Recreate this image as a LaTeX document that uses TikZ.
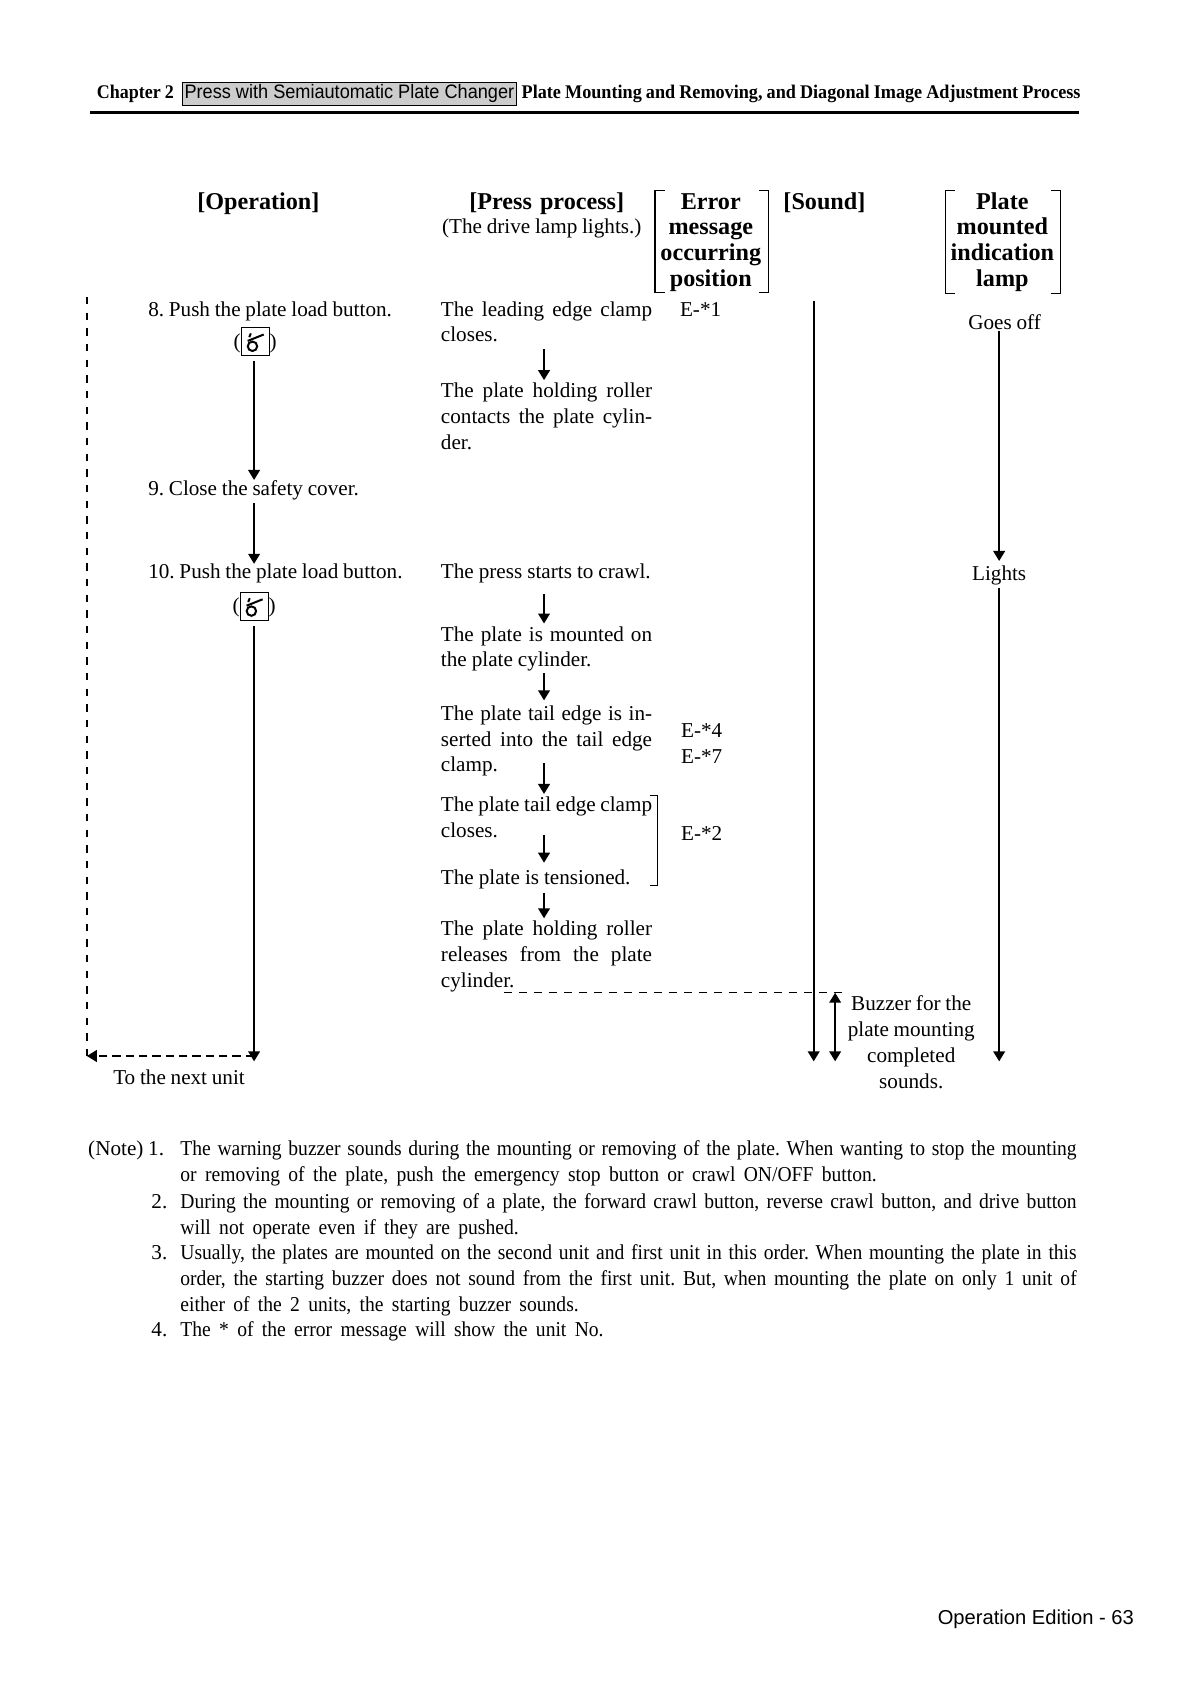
\documentclass[tikz,border=0pt]{standalone}
\usepackage{fontspec}
\setmainfont[WordSpace=0.9]{Liberation Serif}
\newfontfamily\arialfont{Liberation Sans}
\usetikzlibrary{arrows.meta, positioning, calc}
\hbadness=10000
\hfuzz=20pt
\frenchspacing
\newcommand{\bodyfont}{\fontsize{12.7}{15.44}\selectfont}
\newcommand{\headfont}{\fontsize{14.5}{15.44}\selectfont\bfseries}
\newcommand{\notefont}{\fontsize{12.7}{15.6}\addfontfeature{FakeStretch=0.925}\selectfont}
\newcommand{\fline}[1]{\makebox[\linewidth][s]{#1}\\}
\begin{document}
\begin{tikzpicture}[
    x=0.6433pt, y=-0.6433pt,
    tightsp/.style={execute at begin node={\spaceskip=#1 plus 2pt minus 2pt\relax}},
    txt/.style={inner sep=0pt, anchor=base west, font=\bodyfont, yshift=-0.6pt},
    ctr/.style={inner sep=0pt, anchor=base, font=\bodyfont, yshift=-0.6pt},
    hdr/.style={inner sep=0pt, anchor=base, font=\headfont, text width=74pt, align=center},
    press/.style={txt, text width=126.7pt, tightsp=3pt},
    note/.style={inner sep=0pt, anchor=base west, font=\notefont, text width=537.8pt, yshift=-0.6pt, tightsp=5pt},
    arr/.style={-{Triangle[length=6pt,width=7pt]}, line width=1.1pt},
    dbl/.style={{Triangle[length=6pt,width=7pt]}-{Triangle[length=6pt,width=7pt]}, line width=1.1pt},
    dashline/.style={line width=1.2pt},
    brk/.style={line width=0.8pt},
    iconbox/.style={draw, line width=0.6pt, inner sep=0pt, minimum size=16.8pt,
        label={[ctr, anchor=east, xshift=0.2pt]left:(},
        label={[ctr, anchor=west, xshift=-0.2pt]right:)},
        path picture={
            \draw[line width=1.2pt] (path picture bounding box.center) ++(-2.5,4) circle (4.4);
            \draw[line width=1.2pt] (path picture bounding box.center) ++(-7,-1) -- ++(15,-6);
            \draw[line width=1.2pt] (path picture bounding box.center) ++(-4,-8) -- ++(-1.5,3.5);
        }},
]
\useasboundingbox (0,0) rectangle (1108,1568);

% Page header
\node[inner sep=0pt, anchor=base west, font=\fontsize{11.6}{14}\addfontfeature{FakeStretch=0.93}\selectfont\bfseries] (chap) at (90,92) {Chapter 2};
\node[draw, fill=gray!40, line width=0.6pt, inner sep=1.5pt, font=\arialfont\fontsize{11.7}{14}\addfontfeature{FakeStretch=0.93}\selectfont, base right=4.5pt of chap] (unit) {Press with Semiautomatic Plate Changer};
\node[inner sep=0pt, font=\fontsize{11.6}{14}\addfontfeature{FakeStretch=0.94}\selectfont\bfseries, base right=2.5pt of unit] (title) {Plate Mounting and Removing, and Diagonal Image Adjustment Process};
\coordinate (rulel) at (84,105);
\coordinate (ruler) at (1006,105);
\draw[line width=1.6pt] (rulel) -- (ruler);

% Column heads
\node[hdr] (hop) at (241,195) {[Operation]};
\node[hdr, text width=110pt] (hpress) at (510,195) {[Press process]};
\node[txt] (hlamp) at (412,217) {(The drive lamp lights.)};
\node[hdr] (hmsg) at (663,195) {Error\\message\\occurring\\position};
\node[hdr] (hsound) at (769,195) {[Sound]};
\node[hdr] (hplate) at (935,195) {Plate\\mounted\\indication\\lamp};

\coordinate (msgtl) at (611,178);
\coordinate (msgbr) at (717,273);
\coordinate (platetl) at (882,178);
\coordinate (platebr) at (989,274);
\foreach \a/\b in {msgtl/msgbr, platetl/platebr} {
    \draw[brk] (\a) ++(9,0) -- ++(-9,0) -- (\a |- \b) -- ++(9,0);
    \draw[brk] (\b) ++(-9,0) -- ++(9,0) -- (\b |- \a) -- ++(-9,0);
}

% Operation steps
\node[txt] (s8) at (138,294) {8. Push the plate load button.};
\node[iconbox] (icon8) at (238,319) {};
\node[txt] (s9) at (138,461) {9. Close the safety cover.};
\node[txt] (s10) at (138,539) {10. Push the plate load button.};
\node[iconbox] (icon10) at (237,566) {};
\node[ctr] (nextunit) at (167,1011) {To the next unit};
\coordinate (nextr) at (237,990);
\coordinate (nextl) at (81,985);
\coordinate (backt) at (81,277);

\draw[arr, shorten <=3pt] (icon8.south -| nextr) -- (nextr |- s9.north);
\draw[arr, shorten <=2pt] (nextr |- s9.south) -- (nextr |- s10.north);
\draw[arr, shorten <=3pt] (icon10.south -| nextr) -- (nextr);
\draw[dashline, dash pattern=on 4.4pt off 5pt] (backt) -- (nextl);
\draw[dashline, dash pattern=on 5pt off 3pt, -{Triangle[length=6pt,width=7pt]}] (nextr |- nextl) -- (nextl);

% Press process
\node[press] (p1) at (411,294) {\fline{The leading edge clamp}closes.};
\node[press] (p2) at (411,370) {\fline{The plate holding roller}\fline{contacts the plate cylin-}der.};
\node[press] (p3) at (411,539) {\mbox{The press starts to crawl.}};
\node[press] (p4) at (411,597) {\fline{The plate is mounted on}the plate cylinder.};
\node[press] (p5) at (411,671) {\fline{The plate tail edge is in-}\fline{serted into the tail edge}clamp.};
\node[press] (p6) at (411,756) {\fline{The plate tail edge clamp}closes.};
\node[press] (p7) at (411,824) {The plate is tensioned.};
\node[press] (p8) at (411,872) {\fline{The plate holding roller}\fline{releases from the plate}cylinder.};

\foreach \a/\b/\s/\e in {p1/p2/4/1.5, p3/p4/6/1.5, p4/p5/1/3, p5/p6/-8/1.5, p6/p7/-2/4, p7/p8/2/1.5} {
    \draw[arr, transform canvas={xshift=-1.5pt}, shorten <=\s pt, shorten >=\e pt] (\a.south) -- (\b.north);
}

\coordinate (clampt) at (613,742);
\coordinate (clampb) at (613,826);
\draw[brk] (clampt) ++(-7,0) -- ++(7,0) -- (clampb) -- ++(-7,0);

% Error messages
\node[txt] (e1) at (634,294) {E-*1};
\node[txt] (e4) at (635,687) {E-*4};
\node[txt] (e7) at (635,711) {E-*7};
\node[txt] (e2) at (635,783) {E-*2};

% Sound
\coordinate (sndt) at (759,281);
\coordinate (sndb) at (759,990);
\draw[arr] (sndt) -- (sndb);
\coordinate (buzzt) at (779,926);
\coordinate (buzzb) at (779,990);
\coordinate (donel) at (470,926);
\coordinate (doner) at (790,926);
\draw[line width=0.6pt, dash pattern=on 5pt off 4pt] (donel) -- (doner);
\draw[dbl] (buzzt) -- (buzzb);
\node[ctr, text width=90pt, align=center, tightsp=2.2pt] (buzz) at (850,942) {Buzzer for the\\plate mounting\\completed\\sounds.};

% Indication lamp
\node[ctr] (off) at (937,306) {Goes off};
\node[ctr] (on) at (932,541) {Lights};
\coordinate (lampb) at (932,990);
\draw[arr, shorten <=1pt, shorten >=3pt] (off.south -| on) -- (on.north);
\draw[arr, shorten <=1pt] (on.south) -- (lampb);

% Notes
\node[txt] (nhead) at (82,1077) {(Note) 1.};
\node[note] (n1) at (168,1077) {\fline{The warning buzzer sounds during the mounting or removing of the plate. When wanting to stop the mounting}or removing of the plate, push the emergency stop button or crawl ON/OFF button.};
\node[txt] (num2) at (141,1126) {2.};
\node[note] (n2) at (168,1126) {\fline{During the mounting or removing of a plate, the forward crawl button, reverse crawl button, and drive button}will not operate even if they are pushed.};
\node[txt] (num3) at (141,1174) {3.};
\node[note] (n3) at (168,1174) {\fline{Usually, the plates are mounted on the second unit and first unit in this order. When mounting the plate in this}\fline{order, the starting buzzer does not sound from the first unit. But, when mounting the plate on only 1 unit of}either of the 2 units, the starting buzzer sounds.};
\node[txt] (num4) at (141,1246) {4.};
\node[note] (n4) at (168,1246) {The * of the error message will show the unit No.};

% Footer
\node[inner sep=0pt, anchor=base east, font=\arialfont\fontsize{12.1}{14}\selectfont] (folio) at (1058,1515) {Operation Edition - 63};
\end{tikzpicture}
\end{document}
